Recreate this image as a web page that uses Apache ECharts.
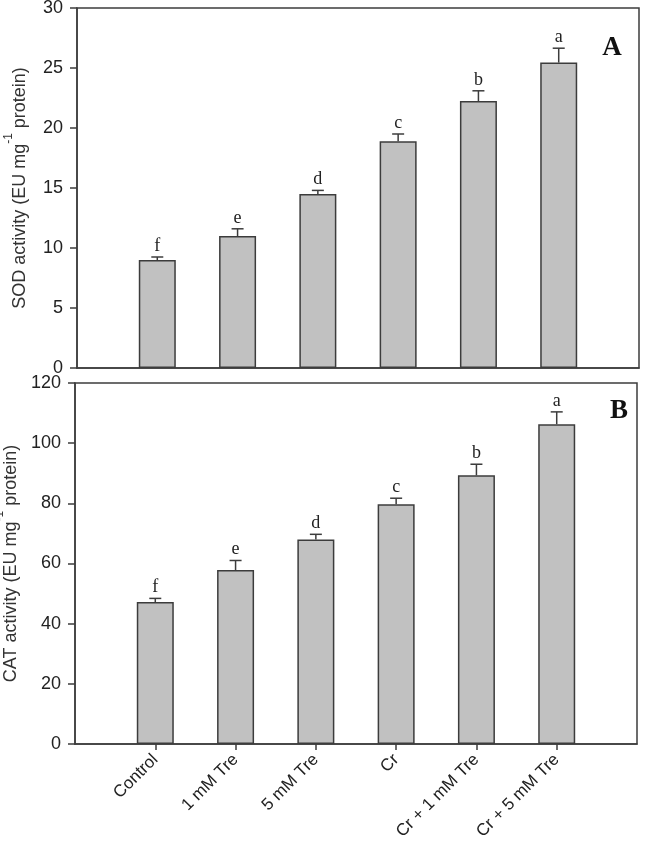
<!DOCTYPE html>
<html>
<head>
<meta charset="utf-8">
<script src="https://cdn.jsdelivr.net/npm/echarts@6/dist/echarts.min.js"></script>
<style>html,body{margin:0;padding:0;background:#fff}#c{width:646px;height:847px}</style>
</head>
<body>
<div id="c"></div>
<script>
const categories = ['', 'Control', '1 mM Tre', '5 mM Tre', 'Cr', 'Cr + 1 mM Tre', 'Cr + 5 mM Tre', ''];
const treatments = ['Control', '1 mM Tre', '5 mM Tre', 'Cr', 'Cr + 1 mM Tre', 'Cr + 5 mM Tre'];
const sodMean = [9.0, 11.0, 14.5, 18.9, 22.25, 25.45];
const sodErr = [0.25, 0.6, 0.3, 0.6, 0.85, 1.2];
const sodLetters = ['f', 'e', 'd', 'c', 'b', 'a'];
const catMean = [47.2, 57.8, 68.0, 79.7, 89.3, 106.3];
const catErr = [1.2, 3.2, 1.7, 2.0, 3.7, 4.1];
const catLetters = ['f', 'e', 'd', 'c', 'b', 'a'];
const sodTicks = [0, 5, 10, 15, 20, 25, 30];
const catTicks = [0, 20, 40, 60, 80, 100, 120];

const dark = '#3c3c3c';
const numFont = 'Liberation Sans';

function barData(vals) {
  return ['-'].concat(vals).concat(['-']);
}
function errData(means, errs, letters) {
  return treatments.map((t, i) => [t, means[i], errs[i], letters[i]]);
}
function renderErr(params, api) {
  const x = api.value(0);
  const m = api.value(1);
  const e = api.value(2);
  const letter = api.value(3);
  const p0 = api.coord([x, m]);
  const p1 = api.coord([x, m + e]);
  const half = 6;
  return {
    type: 'group',
    children: [
      { type: 'line', shape: { x1: p0[0], y1: p0[1], x2: p1[0], y2: p1[1] }, style: { stroke: dark, lineWidth: 1.5 } },
      { type: 'line', shape: { x1: p1[0] - half, y1: p1[1], x2: p1[0] + half, y2: p1[1] }, style: { stroke: dark, lineWidth: 1.5 } },
      { type: 'text', style: { x: p1[0], y: p1[1] - 2, text: letter, align: 'center', verticalAlign: 'bottom', font: '18px "Liberation Serif"', fill: '#222' } }
    ]
  };
}
function yName(prefix) {
  return '{a|' + prefix + ' (EU mg}{s|-1}{a| protein)}';
}
const nameRich = {
  a: { fontFamily: 'Liberation Sans', fontSize: 18, color: '#333', lineHeight: 26, verticalAlign: 'bottom' },
  s: { fontFamily: 'Liberation Sans', fontSize: 12, color: '#333', lineHeight: 12, verticalAlign: 'top' }
};

const chart = echarts.init(document.getElementById('c'), null, { renderer: 'canvas' });
chart.setOption({
  animation: false,
  backgroundColor: '#fff',
  grid: [
    { left: 77, top: 8, right: 7, height: 360, show: true, borderColor: dark, borderWidth: 1.5, backgroundColor: 'transparent', containLabel: false, outerBoundsMode: 'none' },
    { left: 75, top: 383, right: 9, height: 361, show: true, borderColor: dark, borderWidth: 1.5, backgroundColor: 'transparent', containLabel: false, outerBoundsMode: 'none' }
  ],
  xAxis: [
    { type: 'category', gridIndex: 0, data: categories, boundaryGap: false,
      axisLine: { lineStyle: { color: dark, width: 1.5 } }, axisTick: { show: false }, axisLabel: { show: false }, splitLine: { show: false } },
    { type: 'category', gridIndex: 1, data: categories, boundaryGap: false,
      axisLine: { lineStyle: { color: dark, width: 1.5 } },
      axisTick: { show: true, length: 6, lineStyle: { color: dark, width: 1.5 }, interval: (i) => i > 0 && i < 7 },
      axisLabel: { interval: 0, rotate: 45, fontFamily: numFont, fontSize: 17, color: '#222', margin: 13 },
      splitLine: { show: false } }
  ],
  yAxis: [
    { type: 'value', gridIndex: 0, min: sodTicks[0], max: sodTicks[sodTicks.length - 1], interval: 5,
      axisLine: { show: true, lineStyle: { color: dark, width: 1.5 } },
      axisTick: { show: true, length: 7, lineStyle: { color: dark, width: 1.5 } },
      axisLabel: { fontFamily: numFont, fontSize: 18, color: '#222', margin: 14 },
      splitLine: { show: false },
      name: yName('SOD activity'), nameLocation: 'middle', nameRotate: 90, nameGap: 48, nameTextStyle: { rich: nameRich } },
    { type: 'value', gridIndex: 1, min: catTicks[0], max: catTicks[catTicks.length - 1], interval: 20,
      axisLine: { show: true, lineStyle: { color: dark, width: 1.5 } },
      axisTick: { show: true, length: 7, lineStyle: { color: dark, width: 1.5 } },
      axisLabel: { fontFamily: numFont, fontSize: 18, color: '#222', margin: 14 },
      splitLine: { show: false },
      name: yName('CAT activity'), nameLocation: 'middle', nameRotate: 90, nameGap: 46, nameTextStyle: { rich: nameRich } }
  ],
  series: [
    { type: 'bar', xAxisIndex: 0, yAxisIndex: 0, data: barData(sodMean), barWidth: 37,
      itemStyle: { color: '#c1c1c1', borderColor: dark, borderWidth: 1.5 } },
    { type: 'custom', xAxisIndex: 0, yAxisIndex: 0, data: errData(sodMean, sodErr, sodLetters), renderItem: renderErr, z: 5 },
    { type: 'bar', xAxisIndex: 1, yAxisIndex: 1, data: barData(catMean), barWidth: 37,
      itemStyle: { color: '#c1c1c1', borderColor: dark, borderWidth: 1.5 } },
    { type: 'custom', xAxisIndex: 1, yAxisIndex: 1, data: errData(catMean, catErr, catLetters), renderItem: renderErr, z: 5 }
  ],
  graphic: [
    { type: 'text', x: 612, y: 48, style: { text: 'A', font: 'bold 27px "Liberation Serif"', fill: '#111', align: 'center', verticalAlign: 'middle' } },
    { type: 'text', x: 619, y: 411, style: { text: 'B', font: 'bold 27px "Liberation Serif"', fill: '#111', align: 'center', verticalAlign: 'middle' } }
  ]
});
</script>
</body>
</html>
